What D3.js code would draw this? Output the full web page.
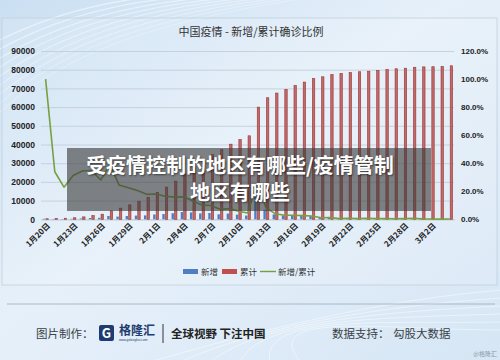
<!DOCTYPE html>
<html lang="zh">
<head>
<meta charset="UTF-8">
<script src="https://d3js.org/d3.v7.min.js"></script>
<title>中国疫情 - 新增/累计确诊比例</title>
<style>
  body { margin: 0; background: #e3eef8; }
  svg { display: block; }
</style>
</head>
<body>
<div id="chart"></div>
<script>
// data
var dates = ["1月20日","1月21日","1月22日","1月23日","1月24日","1月25日","1月26日","1月27日","1月28日","1月29日",
  "1月30日","1月31日","2月1日","2月2日","2月3日","2月4日","2月5日","2月6日","2月7日","2月8日",
  "2月9日","2月10日","2月11日","2月12日","2月13日","2月14日","2月15日","2月16日","2月17日","2月18日",
  "2月19日","2月20日","2月21日","2月22日","2月23日","2月24日","2月25日","2月26日","2月27日","2月28日",
  "2月29日","3月1日","3月2日","3月3日","3月4日"];
var newCases = [291,149,131,259,444,688,769,1771,1459,1737,
  1982,2102,2590,2829,3235,3887,3694,3143,3399,2656,
  3062,2478,2015,15152,5090,2641,2009,2048,1886,1749,
  820,889,397,648,409,508,406,433,327,427,
  573,202,125,119,139];
var totalCases = [291,440,571,830,1287,1975,2744,4515,5974,7711,
  9692,11791,14380,17205,20438,24324,28018,31161,34546,37198,
  40171,42638,44653,60000,65000,67500,69500,71600,73400,75200,
  76200,77400,78000,78500,78900,79200,79600,80100,80500,80800,
  81300,81500,81600,81700,82100];
var ratio = [1.000,0.339,0.229,0.312,0.345,0.348,0.280,0.392,0.244,0.225,
  0.205,0.178,0.180,0.164,0.158,0.160,0.132,0.101,0.098,0.071,
  0.076,0.058,0.045,0.253,0.080,0.040,0.029,0.029,0.026,0.024,
  0.011,0.012,0.005,0.008,0.005,0.007,0.005,0.006,0.004,0.005,
  0.007,0.003,0.002,0.001,0.002];
var xTicks = ["1月20日","1月23日","1月26日","1月29日","2月1日","2月4日","2月7日","2月10日",
  "2月13日","2月16日","2月19日","2月22日","2月25日","2月28日","3月2日"];
var leftTicks = [0,10000,20000,30000,40000,50000,60000,70000,80000,90000];
var rightTicks = [0,0.2,0.4,0.6,0.8,1.0,1.2];

var width = 500, height = 360;
var cjk = '"Noto Sans CJK SC", sans-serif';
var latin = '"Liberation Sans", Arial, sans-serif';

var svg = d3.select('#chart').append('svg')
  .attr('width', width)
  .attr('height', height);

// background
var defs = svg.append('defs');
var bg = defs.append('linearGradient').attr('id', 'bg')
  .attr('x1', 0).attr('y1', 0).attr('x2', 1).attr('y2', 1);
bg.append('stop').attr('offset', '0%').attr('stop-color', '#cadff2');
bg.append('stop').attr('offset', '45%').attr('stop-color', '#e6f0fa');
bg.append('stop').attr('offset', '100%').attr('stop-color', '#d6e6f5');
svg.append('rect').attr('width', width).attr('height', height).attr('fill', 'url(#bg)');

// decorative streaks, top left and bottom
var streaks = svg.append('g').attr('fill', 'none').attr('stroke', '#ffffff');
d3.range(9).forEach(function(i) {
  streaks.append('path')
    .attr('d', 'M0,' + (40 + i * 9) + ' C60,' + (10 + i * 6) + ' 140,' + (-10 + i * 4) + ' ' + (230 + i * 12) + ',-5')
    .attr('stroke-opacity', 0.55 - i * 0.04)
    .attr('stroke-width', 1.2);
});
d3.range(6).forEach(function(i) {
  streaks.append('path')
    .attr('d', 'M' + (150 + i * 30) + ',362 C260,' + (330 - i * 4) + ' 380,' + (300 + i * 6) + ' 502,' + (290 + i * 8))
    .attr('stroke-opacity', 0.45)
    .attr('stroke-width', 1);
});

// chart frame
svg.append('rect')
  .attr('x', 2).attr('y', 18).attr('width', 495).attr('height', 267)
  .attr('fill', '#ffffff').attr('fill-opacity', 0.12)
  .attr('stroke', '#c3cfda').attr('stroke-width', 0.8);

svg.append('text')
  .attr('x', 251).attr('y', 36)
  .attr('text-anchor', 'middle')
  .attr('font-family', cjk).attr('font-size', 11)
  .attr('fill', '#333')
  .text('中国疫情 - 新增/累计确诊比例');

// scales
var x = d3.scaleBand().domain(dates).range([41, 454.5]);
var y = d3.scaleLinear().domain([0, 90000]).range([219.3, 51]);
var y2 = d3.scaleLinear().domain([0, 1.2]).range([219.3, 51]);
var cx = function(d) { return x(d) + x.bandwidth() / 2; };

// grid
svg.append('g')
  .attr('transform', 'translate(41,0)')
  .call(d3.axisLeft(y).tickValues(leftTicks).tickSize(-413).tickFormat(''))
  .call(function(g) {
    g.select('.domain').remove();
    g.selectAll('line').attr('stroke', '#c4ced8').attr('stroke-width', 0.9);
  });

// left axis
svg.append('g')
  .attr('transform', 'translate(41,0)')
  .call(d3.axisLeft(y).tickValues(leftTicks).tickSize(0).tickPadding(6).tickFormat(d3.format('d')))
  .call(function(g) {
    g.select('.domain').remove();
    g.selectAll('text').attr('font-family', latin).attr('font-size', 8.5)
      .attr('font-weight', 'bold').attr('fill', '#222');
  });

// right axis
svg.append('g')
  .attr('transform', 'translate(455,0)')
  .call(d3.axisRight(y2).tickValues(rightTicks).tickSize(0).tickPadding(6)
    .tickFormat(function(d) { return (d * 100).toFixed(1) + '%'; }))
  .call(function(g) {
    g.select('.domain').remove();
    g.selectAll('text').attr('font-family', latin).attr('font-size', 8)
      .attr('font-weight', 'bold').attr('fill', '#222');
  });

// x axis
svg.append('g')
  .attr('transform', 'translate(0,219.3)')
  .call(d3.axisBottom(x).tickValues(xTicks).tickSize(0))
  .call(function(g) {
    g.select('.domain').attr('stroke', '#c4ced8');
    g.selectAll('text')
      .attr('font-family', cjk).attr('font-size', 8).attr('font-weight', 'bold')
      .attr('fill', '#222')
      .attr('text-anchor', 'end')
      .attr('x', 0).attr('y', 0).attr('dy', '0.35em')
      .attr('transform', 'translate(3,5) rotate(-45)');
  });

// bars
var barW = 2.4;
svg.append('g').selectAll('rect')
  .data(dates).join('rect')
  .attr('x', function(d) { return cx(d) - 2.7; })
  .attr('y', function(d, i) { return y(newCases[i]); })
  .attr('width', barW)
  .attr('height', function(d, i) { return y(0) - y(newCases[i]); })
  .attr('fill', '#4f7fc0');

svg.append('g').selectAll('rect')
  .data(dates).join('rect')
  .attr('x', function(d) { return cx(d) + 0.3; })
  .attr('y', function(d, i) { return y(totalCases[i]); })
  .attr('width', barW)
  .attr('height', function(d, i) { return y(0) - y(totalCases[i]); })
  .attr('fill', '#c06a69')
  .attr('stroke', '#9b3332').attr('stroke-width', 0.6);

// ratio line
svg.append('path')
  .datum(dates)
  .attr('fill', 'none')
  .attr('stroke', '#76a040')
  .attr('stroke-width', 1.6)
  .attr('stroke-linejoin', 'round')
  .attr('d', d3.line()
    .x(function(d) { return cx(d); })
    .y(function(d, i) { return y2(ratio[i]); }));

// legend
var legend = svg.append('g').attr('font-family', cjk).attr('font-size', 8.5).attr('fill', '#333');
legend.append('rect').attr('x', 183).attr('y', 269).attr('width', 15).attr('height', 5).attr('fill', '#4f7fc0');
legend.append('text').attr('x', 201).attr('y', 275).text('新增');
legend.append('rect').attr('x', 222).attr('y', 269).attr('width', 15).attr('height', 5).attr('fill', '#c0504d');
legend.append('text').attr('x', 240).attr('y', 275).text('累计');
legend.append('line').attr('x1', 260).attr('x2', 276).attr('y1', 271.5).attr('y2', 271.5)
  .attr('stroke', '#76a040').attr('stroke-width', 1.4);
legend.append('text').attr('x', 278).attr('y', 275).text('新增/累计');

// headline overlay
svg.append('rect')
  .attr('x', 67).attr('y', 148).attr('width', 364).attr('height', 63)
  .attr('fill', '#3c3c3c').attr('fill-opacity', 0.62);
var head = svg.append('g')
  .attr('font-family', cjk).attr('font-size', 20).attr('font-weight', 'bold')
  .attr('fill', '#ffffff').attr('text-anchor', 'middle')
  .style('text-shadow', '1px 1px 2px rgba(0,0,0,0.5)');
head.append('text').attr('x', 240).attr('y', 172.5).text('受疫情控制的地区有哪些/疫情管制');
head.append('text').attr('x', 240).attr('y', 199.5).text('地区有哪些');

// footer
svg.append('line').attr('x1', 7).attr('x2', 495).attr('y1', 304).attr('y2', 304)
  .attr('stroke', '#9fabb6').attr('stroke-width', 0.8);

var foot = svg.append('g').attr('font-family', cjk).attr('fill', '#3a3f46');
foot.append('text').attr('x', 36).attr('y', 338).attr('font-size', 11.5).text('图片制作：');
foot.append('rect').attr('x', 99).attr('y', 325).attr('width', 15).attr('height', 16).attr('rx', 2).attr('fill', '#1f3c70');
foot.append('text').attr('x', 106.5).attr('y', 338).attr('text-anchor', 'middle')
  .attr('font-size', 13).attr('font-weight', 'bold').attr('fill', '#ffffff').text('G');
foot.append('text').attr('x', 119).attr('y', 335).attr('font-size', 12).attr('font-weight', 'bold')
  .attr('fill', '#1f3c70').text('格隆汇');
foot.append('text').attr('x', 119).attr('y', 341).attr('font-family', latin).attr('font-size', 3.2)
  .attr('fill', '#1f3c70').text('www.gelonghui.com');
foot.append('line').attr('x1', 163).attr('x2', 163).attr('y1', 324).attr('y2', 343)
  .attr('stroke', '#333').attr('stroke-width', 1);
foot.append('text').attr('x', 171).attr('y', 338).attr('font-size', 11.5).attr('font-weight', 'bold')
  .attr('fill', '#222').text('全球视野 下注中国');
foot.append('text').attr('x', 332).attr('y', 338).attr('font-size', 11.5).text('数据支持：');
foot.append('text').attr('x', 393).attr('y', 338).attr('font-size', 11.5).text('勾股大数据');
foot.append('text').attr('x', 497).attr('y', 356).attr('text-anchor', 'end')
  .attr('font-size', 6).attr('fill', '#8d98a3').text('@格隆汇');
</script>
</body>
</html>
